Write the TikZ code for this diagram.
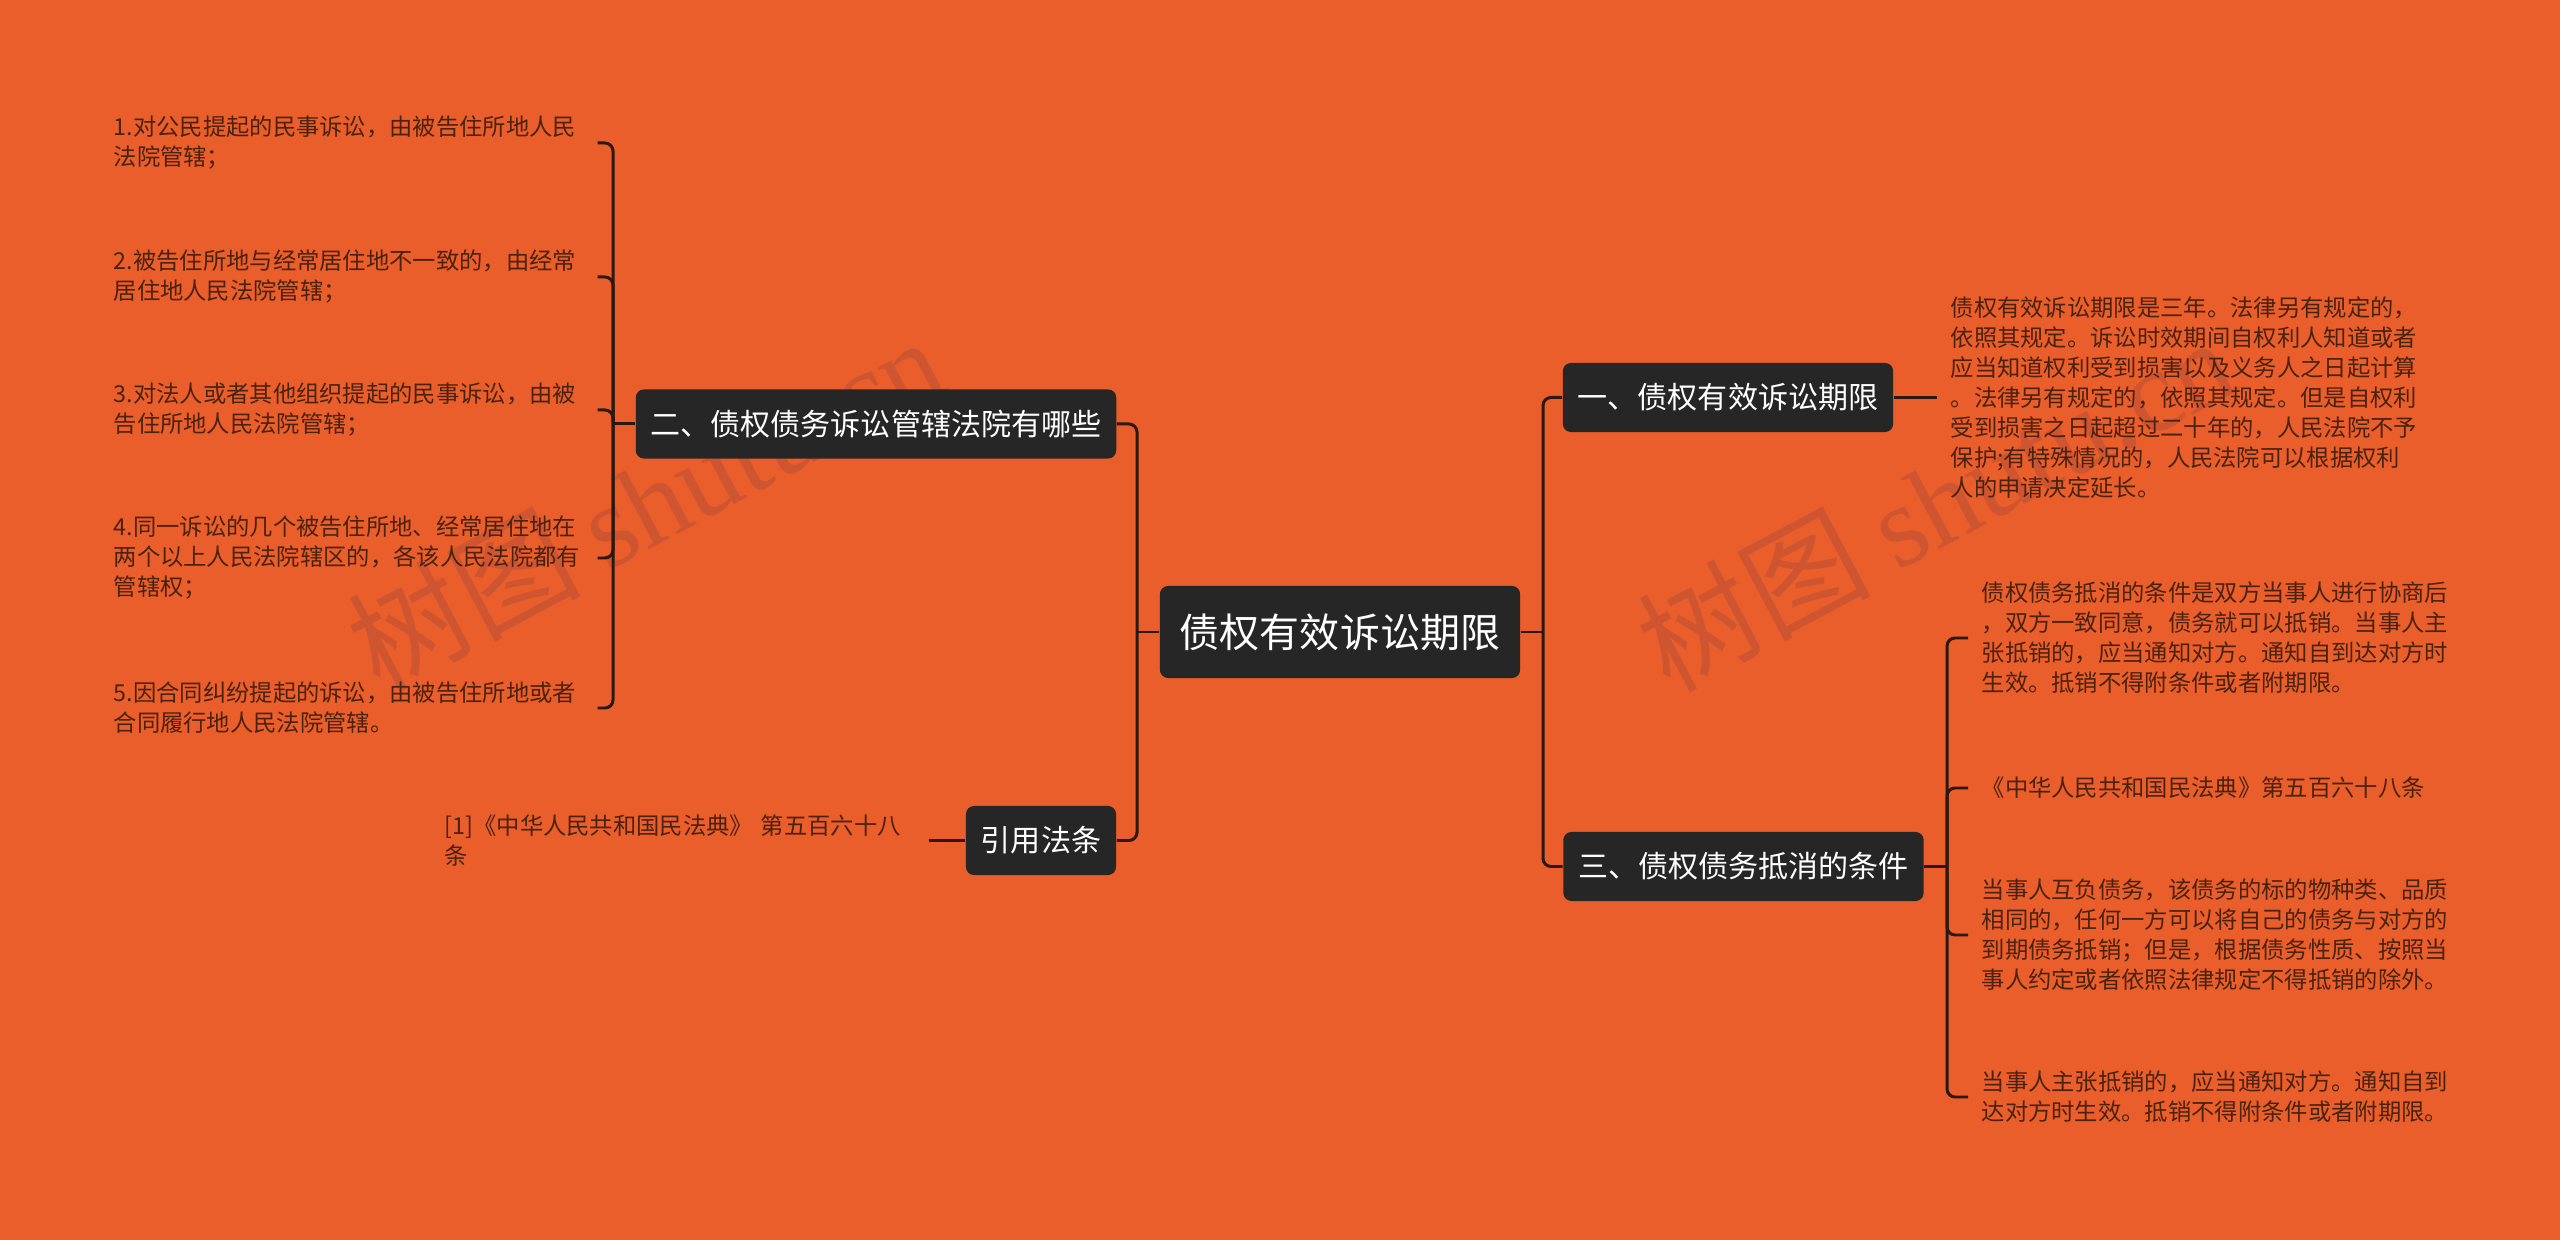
\documentclass[tikz,border=0pt]{standalone}
\usepackage{fontspec}
\setmainfont{Noto Sans CJK SC}
\newfontfamily\wmfont{Liberation Serif}
\usepackage{tikz}
\usetikzlibrary{positioning}
\definecolor{bgorange}{HTML}{E95E2A}
\definecolor{boxgray}{HTML}{262626}
\definecolor{linebrown}{HTML}{2B1810}
\definecolor{leafbrown}{HTML}{4A2210}
\definecolor{wmark}{HTML}{CE5530}

\begin{document}
\begin{tikzpicture}[x=0.01cm,y=-0.01cm]
	\tikzstyle{topic}=[fill=boxgray,text=white,rounded corners=2.3pt,inner xsep=0.15cm,inner ysep=0pt,minimum height=0.69cm,font=\fontsize{8.54pt}{10pt}\selectfont]
	\tikzstyle{mainbox}=[topic,inner xsep=0.2cm,minimum height=0.92cm,font=\fontsize{11.38pt}{13pt}\selectfont]
	\tikzstyle{leaf}=[text=leafbrown,text width=4.7cm,align=left,inner xsep=0.13cm,inner ysep=0pt,font=\fontsize{6.63pt}{8.54pt}\selectfont]
	\tikzstyle{link}=[draw=linebrown,line width=0.85pt,rounded corners=2.3pt]
	\tikzstyle{wm}=[text=wmark,rotate=28,font=\fontsize{33pt}{33pt}\selectfont]
	\fill [bgorange] (0,0) rectangle (2560,1240);
	\node [wm] (wm1) at (645,502) {树图 {\wmfont shutu.cn}};
	\node [wm] (wm2) at (1935,502) {树图 {\wmfont shutu.cn}};
	\node [mainbox] (main) at (1340,632) {债权有效诉讼期限};
	\node [topic] (two) at (876,424) {二、债权债务诉讼管辖法院有哪些};
	\node [topic] (cite) at (1041,840.5) {引用法条};
	\node [topic] (one) at (1728,397.5) {一、债权有效诉讼期限};
	\node [topic] (three) at (1743.5,866.5) {三、债权债务抵消的条件};
	\coordinate (lj) at (1137,632);
	\coordinate (rj) at (1543,632);
	\coordinate (twoj) at (613,424);
	\coordinate (threej) at (1947,866.5);
	\node [leaf,anchor=west] (court1) at (100,143) {1.对公民提起的民事诉讼，由被告住所地人民\\法院管辖；};
	\node [leaf,anchor=west] (court2) at (100,277) {2.被告住所地与经常居住地不一致的，由经常\\居住地人民法院管辖；};
	\node [leaf,anchor=west] (court3) at (100,410) {3.对法人或者其他组织提起的民事诉讼，由被\\告住所地人民法院管辖；};
	\node [leaf,anchor=west] (court4) at (100,558) {4.同一诉讼的几个被告住所地、经常居住地在\\两个以上人民法院辖区的，各该人民法院都有\\管辖权；};
	\node [leaf,anchor=west] (court5) at (100,708) {5.因合同纠纷提起的诉讼，由被告住所地或者\\合同履行地人民法院管辖。};
	\node [leaf,anchor=west] (law) at (431,840.5) {[1]《中华人民共和国民法典》~第五百六十八\\条};
	\node [leaf,anchor=west] (term) at (1937,397.5) {债权有效诉讼期限是三年。法律另有规定的，\\依照其规定。诉讼时效期间自权利人知道或者\\应当知道权利受到损害以及义务人之日起计算\\。法律另有规定的，依照其规定。但是自权利\\受到损害之日起超过二十年的，人民法院不予\\保护;有特殊情况的，人民法院可以根据权利\\人的申请决定延长。};
	\node [leaf,anchor=west] (offset1) at (1968,638) {债权债务抵消的条件是双方当事人进行协商后\\，双方一致同意，债务就可以抵销。当事人主\\张抵销的，应当通知对方。通知自到达对方时\\生效。抵销不得附条件或者附期限。};
	\node [leaf,anchor=west] (offset2) at (1968,788) {《中华人民共和国民法典》第五百六十八条};
	\node [leaf,anchor=west] (offset3) at (1968,935) {当事人互负债务，该债务的标的物种类、品质\\相同的，任何一方可以将自己的债务与对方的\\到期债务抵销；但是，根据债务性质、按照当\\事人约定或者依照法律规定不得抵销的除外。};
	\node [leaf,anchor=west] (offset4) at (1968,1097) {当事人主张抵销的，应当通知对方。通知自到\\达对方时生效。抵销不得附条件或者附期限。};
	\draw [link] (main.west) -- (lj);
	\draw [link] (lj) |- (two.east);
	\draw [link] (lj) |- (cite.east);
	\draw [link] (main.east) -- (rj);
	\draw [link] (rj) |- (one.west);
	\draw [link] (rj) |- (three.west);
	\draw [link] (two.west) -- (twoj);
	\draw [link] (twoj) |- (court1.east);
	\draw [link] (twoj) |- (court2.east);
	\draw [link] (twoj) |- (court3.east);
	\draw [link] (twoj) |- (court4.east);
	\draw [link] (twoj) |- (court5.east);
	\draw [link] (cite.west) -- (law.east);
	\draw [link] (one.east) -- (term.west);
	\draw [link] (three.east) -- (threej);
	\draw [link] (threej) |- (offset1.west);
	\draw [link] (threej) |- (offset2.west);
	\draw [link] (threej) |- (offset3.west);
	\draw [link] (threej) |- (offset4.west);
\end{tikzpicture}
\end{document}
